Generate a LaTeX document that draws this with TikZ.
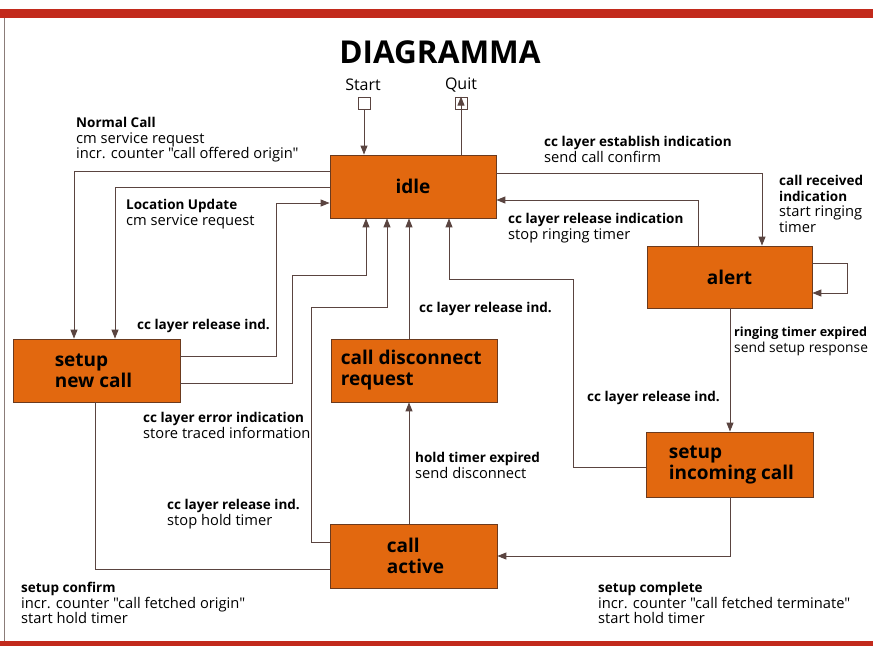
\documentclass[tikz,border=0pt]{standalone}
\usepackage{fontspec}
\setmainfont{Open Sans}[Ligatures=TeXOff]
\usetikzlibrary{arrows.meta}
\definecolor{boxfill}{HTML}{E2680F}
\definecolor{boxline}{HTML}{6B3A1E}
\definecolor{wirec}{HTML}{5A4440}
\definecolor{barred}{HTML}{C22A1C}
\newcommand\hdline[1]{{\fontsize{13.5}{15.5}\selectfont\bfseries #1}}
\begin{document}
\begin{tikzpicture}[x=1pt,y=-1pt,
  state/.style={draw=boxline, fill=boxfill, line width=0.8pt, minimum width=166pt, minimum height=63pt, inner sep=0pt},
  stxt/.style={anchor=west, align=left, inner sep=0pt, font=\fontsize{19}{21}\selectfont\bfseries},
  wire/.style={draw=wirec, line width=0.9pt},
  arr/.style={wire, -{Triangle[length=9pt,width=7pt]}},
  lbl/.style={anchor=north west, align=left, inner sep=0pt, font=\fontsize{14.7}{15.7}\selectfont},
  term/.style={draw=wirec, line width=0.8pt, minimum size=12pt, inner sep=0pt}]
\useasboundingbox (0,0) rectangle (873,646);
% frame
\fill[barred] (0,9) rectangle (873,18);
\fill[barred] (0,641) rectangle (873,646);
\draw[wirec!70, line width=0.6pt] (4,18) -- (4,641);
\node[font=\fontsize{31.5}{33}\selectfont\bfseries] (title) at (440,52) {DIAGRAMMA};
% states
\node[state] (idle) at (413,186.5) {};
\node[font=\fontsize{19}{21}\selectfont\bfseries, inner sep=0pt] (idletxt) at (idle.center) {idle};
\node[state, minimum width=165pt, minimum height=62pt] (alert) at (729.5,277) {};
\node[font=\fontsize{19}{21}\selectfont\bfseries, inner sep=0pt] (alerttxt) at (alert.center) {alert};
\node[state, minimum width=167pt] (setupnew) at (96.5,370.5) {};
\node[stxt] (setupnewtxt) at ([xshift=42pt]setupnew.west) {setup\\new call};
\node[state] (disc) at (414,370.5) {};
\node[stxt] (disctxt) at ([xshift=10pt]disc.west) {call disconnect\\request};
\node[state, minimum width=167pt, minimum height=65pt] (incoming) at (729.5,464.5) {};
\node[stxt] (incomingtxt) at ([xshift=23pt]incoming.west) {setup\\incoming call};
\node[state, minimum width=167pt, minimum height=64pt] (active) at (413.5,556) {};
\node[stxt] (activetxt) at ([xshift=57pt]active.west) {call\\active};
% terminals
\node[term] (startbox) at (364,103) {};
\node[font=\fontsize{16}{18}\selectfont, inner sep=0pt] (starttxt) at (363,85) {Start};
\node[term] (quitbox) at (461,103) {};
\node[font=\fontsize{16}{18}\selectfont, inner sep=0pt] (quittxt) at (461,85) {Quit};
% connectors
\draw[arr] (startbox.south) -- (startbox.south |- idle.north);
\draw[arr] (idle.north -| quitbox.center) -- (quitbox.north);
\draw[arr] (idle.west |- 0,171) -| (setupnew.north -| 74,0);
\draw[arr] (idle.west |- 0,187) -| (setupnew.north -| 115,0);
\draw[arr] (setupnew.east |- 0,356) -| (276,203) -- (idle.west |- 0,203);
\draw[arr] (setupnew.east |- 0,383) -| (292,275) -| (idle.south -| 366,0);
\draw[arr] (active.west |- 0,542) -| (311,307) -| (idle.south -| 387,0);
\draw[arr] (disc.north -| 409,0) -- (idle.south -| 409,0);
\draw[arr] (incoming.west |- 0,467) -| (573,279) -| (idle.south -| 449,0);
\draw[arr] (idle.east |- 0,173) -| (alert.north -| 762,0);
\draw[arr] (alert.north -| 698,0) |- (idle.east |- 0,200);
\draw[arr] (alert.east |- 0,263) -| (847,293) -- (alert.east |- 0,293);
\draw[arr] (alert.south -| 730,0) -- (incoming.north -| 730,0);
\draw[arr] (active.north -| 409,0) -- (disc.south -| 409,0);
\draw[wire] (setupnew.south -| 95,0) |- (active.west |- 0,569);
\draw[arr] (incoming.south -| 730,0) |- (active.east |- 0,556);
% labels
\node[lbl] (l1) at (76,117) {\hdline{Normal Call}\\cm service request\\incr. counter "call offered origin"};
\node[lbl] (l2) at (126,199) {\hdline{Location Update}\\cm service request};
\node[lbl] (l3) at (137,319) {\hdline{cc layer release ind.}};
\node[lbl] (l4) at (143,412) {\hdline{cc layer error indication}\\store traced information};
\node[lbl] (l5) at (167,499) {\hdline{cc layer release ind.}\\stop hold timer};
\node[lbl] (l6) at (21,582) {\hdline{setup confirm}\\incr. counter "call fetched origin"\\start hold timer};
\node[lbl] (l7) at (598,582) {\hdline{setup complete}\\incr. counter "call fetched terminate"\\start hold timer};
\node[lbl] (l8) at (415,452) {\hdline{hold timer expired}\\send disconnect};
\node[lbl] (l9) at (419,302) {\hdline{cc layer release ind.}};
\node[lbl] (l10) at (587,391) {\hdline{cc layer release ind.}};
\node[lbl] (l11) at (544,136) {\hdline{cc layer establish indication}\\send call confirm};
\node[lbl] (l12) at (779,175) {\hdline{call received}\\\hdline{indication}\\start ringing\\timer};
\node[lbl] (l13) at (508,213) {\hdline{cc layer release indication}\\stop ringing timer};
\node[lbl, font=\fontsize{13.8}{15.7}\selectfont] (l14) at (734,327) {{\fontsize{12.6}{15.5}\selectfont\bfseries ringing timer expired}\\send setup response};
\end{tikzpicture}
\end{document}
